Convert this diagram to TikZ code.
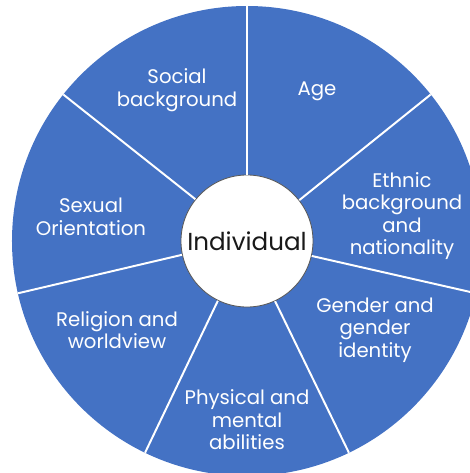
\documentclass[tikz,border=0pt]{standalone}
\usepackage{fontspec}
\setmainfont{Poppins}
\usepackage{tikz}
\usetikzlibrary{positioning,calc}
\definecolor{wheelblue}{HTML}{4472C4}
\definecolor{rimgray}{HTML}{5A5A5A}

\begin{document}
\begin{tikzpicture}[semithick]
\tikzstyle{centre}=[circle,fill=white,draw=rimgray,line width=0.6pt,minimum size=3.3cm,inner sep=0pt,text=black!90,font=\fontsize{17.5}{20}\selectfont]
\tikzstyle{factor}=[align=center,text=white,font=\fontsize{14}{16}\selectfont]
\tikzstyle{spoke}=[draw=white,line width=1.4pt]
\useasboundingbox (-6.175,6.025) rectangle (5.575,-5.8);
\fill[wheelblue] (0,0) circle (5.875cm);
\node[centre] (I) at (0,0) {Individual};
% spokes between the seven sectors
\foreach \a [count=\i] in {90,141.43,192.86,244.29,295.71,347.14,38.57}
  \coordinate (R\i) at (\a:5.875cm);
\foreach \a [count=\i] in {90,141.43,192.86,244.29,295.71,347.14,38.57}
  \draw[spoke] (I.\a) -- (R\i);
\node[factor] (Soc) at (-1.75,3.775) {Social\\background};
\node[factor] (Age) at (1.75,3.75)   {Age};
\node[factor] (Eth) at (3.875,0.625) {Ethnic\\background\\and\\nationality};
\node[factor] (Gen) at (3.2,-2.225)  {Gender and\\gender\\identity};
\node[factor] (Phy) at (0,-4.475)    {Physical and\\mental\\abilities};
\node[factor] (Rel) at (-3.25,-2.225) {Religion and\\worldview};
\node[factor] (Sex) at (-3.9,0.6)    {Sexual\\Orientation};
\end{tikzpicture}
\end{document}
